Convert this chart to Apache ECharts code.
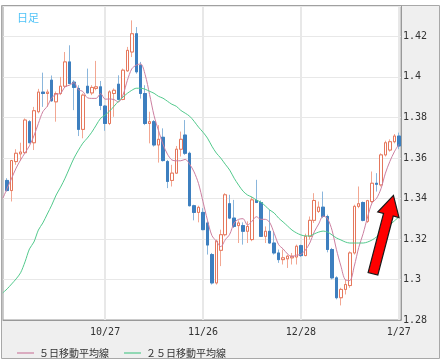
<!DOCTYPE html>
<html><head><meta charset="utf-8">
<script src="https://cdn.jsdelivr.net/npm/echarts@6/dist/echarts.min.js"></script>
<style>html,body{margin:0;padding:0;background:#fff}#c{width:443px;height:363px}</style>
</head><body><div id="c"></div>
<script>
// Trading days (index 0 = 9/24 is only used to carry the moving-average lines to the left edge)
const dates = ['9/24','9/27','9/28','9/29','9/30','10/1','10/4','10/5','10/6','10/7','10/8','10/11','10/12','10/13','10/14','10/15','10/18','10/19','10/20','10/21','10/22','10/25','10/26','10/27',
'10/28','10/29','11/1','11/2','11/3','11/4','11/5','11/8','11/9','11/10','11/11','11/12','11/15','11/16','11/17','11/18','11/19','11/22','11/23','11/24','11/25','11/26',
'11/29','11/30','12/1','12/2','12/3','12/6','12/7','12/8','12/9','12/10','12/13','12/14','12/15','12/16','12/17','12/20','12/21','12/22','12/23','12/24','12/27','12/28',
'12/29','12/30','12/31','1/3','1/4','1/5','1/6','1/7','1/10','1/11','1/12','1/13','1/14','1/17','1/18','1/19','1/20','1/21','1/24','1/25','1/26','1/27'];

const open  = [null,1.3489,1.3439,1.3582,1.3620,1.3626,1.3779,1.3675,1.3828,1.3925,1.3918,1.3984,1.3877,1.3918,1.3954,1.4074,1.3974,1.3943,1.3741,1.3954,1.3921,1.3943,1.3951,1.3856,
1.3770,1.3918,1.3964,1.3889,1.4030,1.4123,1.4213,1.4057,1.3918,1.3770,1.3779,1.3664,1.3702,1.3582,1.3489,1.3525,1.3643,1.3713,1.3623,1.3364,1.3331,1.3331,
1.3279,1.3123,1.2983,1.3144,1.3221,1.3374,1.3303,1.3266,1.3266,1.3238,1.3197,1.3390,1.3380,1.3213,1.3238,1.3180,1.3131,1.3098,1.3102,1.3107,1.3111,1.3167,
1.3118,1.3213,1.3292,1.3336,1.3357,1.3311,1.3148,1.3008,1.2910,1.2951,1.2970,1.3131,1.3361,1.3380,1.3287,1.3385,1.3475,1.3467,1.3615,1.3639,1.3680,1.3708];
const high  = [null,1.3500,1.3590,1.3643,1.3675,1.3795,1.3787,1.3852,1.3941,1.4021,1.3938,1.4007,1.3928,1.4000,1.4123,1.4156,1.3984,1.3959,1.3918,1.4041,1.3959,1.4079,1.3980,1.3861,
1.3934,1.3943,1.4008,1.4041,1.4148,1.4279,1.4246,1.4074,1.3959,1.3828,1.3787,1.3762,1.3746,1.3590,1.3566,1.3659,1.3730,1.3787,1.3631,1.3369,1.3364,1.3352,
1.3287,1.3131,1.3197,1.3246,1.3426,1.3418,1.3393,1.3292,1.3282,1.3287,1.3407,1.3492,1.3390,1.3262,1.3344,1.3238,1.3148,1.3148,1.3123,1.3131,1.3172,1.3172,
1.3226,1.3311,1.3426,1.3385,1.3434,1.3320,1.3156,1.3016,1.2959,1.3000,1.3139,1.3369,1.3459,1.3385,1.3393,1.3533,1.3525,1.3623,1.3685,1.3692,1.3718,1.3725];
const low   = [null,1.3434,1.3385,1.3566,1.3587,1.3620,1.3672,1.3639,1.3820,1.3852,1.3852,1.3877,1.3779,1.3910,1.3951,1.3964,1.3836,1.3708,1.3697,1.3918,1.3910,1.3934,1.3836,1.3734,
1.3762,1.3803,1.3885,1.3885,1.4025,1.4098,1.4016,1.3893,1.3762,1.3672,1.3656,1.3577,1.3582,1.3451,1.3459,1.3521,1.3607,1.3615,1.3361,1.3292,1.3282,1.3243,
1.3123,1.2975,1.2975,1.3066,1.3213,1.3298,1.3254,1.3180,1.3172,1.3180,1.3189,1.3377,1.3210,1.3180,1.3177,1.3123,1.3082,1.3074,1.3057,1.3074,1.3074,1.3111,
1.3115,1.3197,1.3279,1.3328,1.3303,1.3134,1.3000,1.2902,1.2872,1.2926,1.2959,1.3123,1.3352,1.3287,1.3279,1.3377,1.3434,1.3459,1.3607,1.3631,1.3672,1.3643];
const close = [null,1.3439,1.3587,1.3623,1.3629,1.3787,1.3675,1.3833,1.3925,1.3918,1.3925,1.3882,1.3918,1.3954,1.4074,1.3967,1.3948,1.3741,1.3910,1.3921,1.3948,1.3951,1.3859,1.3770,
1.3926,1.3934,1.3889,1.4033,1.4131,1.4213,1.4025,1.3918,1.3770,1.3779,1.3664,1.3692,1.3587,1.3484,1.3525,1.3643,1.3692,1.3623,1.3364,1.3331,1.3356,1.3246,
1.3170,1.2983,1.3189,1.3221,1.3418,1.3303,1.3262,1.3279,1.3238,1.3262,1.3393,1.3380,1.3213,1.3238,1.3180,1.3131,1.3098,1.3107,1.3115,1.3115,1.3164,1.3118,
1.3213,1.3292,1.3390,1.3357,1.3311,1.3148,1.3008,1.2910,1.2951,1.2975,1.3131,1.3361,1.3374,1.3292,1.3389,1.3475,1.3470,1.3615,1.3675,1.3680,1.3708,1.3659];

const ma5 = [1.3400,1.3450,1.3500,1.3550,1.3590,1.3625,1.3660,1.3709,1.3770,1.3828,1.3855,1.3897,1.3914,1.3919,1.3951,1.3959,1.3972,1.3937,1.3928,1.3897,1.3894,1.3894,1.3918,1.3890,
1.3891,1.3888,1.3876,1.3910,1.3983,1.4040,1.4058,1.4064,1.4011,1.3913,1.3809,1.3735,1.3668,1.3619,1.3590,1.3586,1.3586,1.3593,1.3569,1.3531,1.3473,1.3384,
1.3293,1.3217,1.3189,1.3162,1.3196,1.3223,1.3279,1.3297,1.3300,1.3269,1.3287,1.3310,1.3297,1.3297,1.3281,1.3228,1.3172,1.3151,1.3126,1.3113,1.3120,1.3124,
1.3145,1.3180,1.3235,1.3274,1.3313,1.3300,1.3243,1.3147,1.3066,1.2998,1.2995,1.3066,1.3158,1.3227,1.3309,1.3378,1.3400,1.3448,1.3525,1.3583,1.3630,1.3667];
const ma25 = [1.2934,1.2954,1.2978,1.3003,1.3033,1.3087,1.3151,1.3185,1.3244,1.3279,1.3323,1.3367,1.3417,1.3456,1.3500,1.3550,1.3599,1.3638,1.3673,1.3698,1.3727,1.3762,1.3796,1.3811,
1.3831,1.3855,1.3880,1.3900,1.3919,1.3934,1.3944,1.3944,1.3939,1.3929,1.3919,1.3904,1.3895,1.3880,1.3865,1.3855,1.3835,1.3821,1.3806,1.3781,1.3752,1.3727,
1.3698,1.3658,1.3624,1.3599,1.3569,1.3540,1.3500,1.3466,1.3436,1.3417,1.3407,1.3392,1.3382,1.3363,1.3343,1.3328,1.3303,1.3284,1.3264,1.3244,1.3230,1.3220,
1.3215,1.3215,1.3225,1.3234,1.3239,1.3234,1.3220,1.3205,1.3195,1.3185,1.3180,1.3180,1.3180,1.3180,1.3185,1.3195,1.3210,1.3230,1.3249,1.3269,1.3289,1.3308];

const labelDays = [23, 45, 67, 89];
const seriesNames = ['５日移動平均線', '２５日移動平均線'];
const chartTitle = '日足';
// arrow annotation (day index, price)
const arrowFrom = [83.2, 1.3028];
const arrowTo = [87.8, 1.3415];

const candleData = [], bodyData = [];
for (let i = 0; i < dates.length; i++) {
  if (open[i] == null) continue;
  candleData.push([i, open[i], close[i], low[i], high[i]]);
  bodyData.push([i, open[i], close[i], Math.min(open[i], close[i]), Math.max(open[i], close[i])]);
}

const chart = echarts.init(document.getElementById('c'));
const monoFont = 'DejaVu Sans Mono';
const jpFont = 'Noto Sans CJK JP';
chart.setOption({
  animation: false,
  backgroundColor: '#fff',
  title: {text: chartTitle, left: 12, top: 7, textStyle: {color: '#4fc3f7', fontSize: 11, fontWeight: 'normal', fontFamily: jpFont}},
  legend: {data: seriesNames, left: 12, top: 343, icon: 'rect', itemWidth: 17, itemHeight: 1.2, itemGap: 15,
    textStyle: {fontSize: 10, color: '#333', fontFamily: jpFont}},
  grid: {left: 3, right: 42, top: 6, bottom: 43, show: true, backgroundColor: '#fff', borderColor: '#999', borderWidth: 1},
  xAxis: {type: 'value', min: 0.05, max: 89.5,
    axisLine: {show: true, onZero: false, lineStyle: {color: '#999'}},
    axisTick: {show: false, customValues: labelDays},
    axisLabel: {customValues: labelDays, formatter: v => dates[Math.round(v)], color: '#333', fontSize: 10, fontFamily: monoFont, margin: 7},
    splitLine: {show: true, lineStyle: {color: '#e8e8e8', width: 2}}},
  yAxis: {type: 'value', position: 'right', min: 1.28, max: 1.435, interval: 0.02,
    axisLine: {show: true, lineStyle: {color: '#999'}}, axisTick: {show: false},
    axisLabel: {color: '#333', fontSize: 10, fontFamily: monoFont, margin: 2, showMaxLabel: false},
    splitLine: {lineStyle: {color: '#e8e8e8', width: 1}}},
  graphic: [{id: 'frame', type: 'rect', z: -10, shape: {x: 1.5, y: 5.5, width: 438, height: 353},
    style: {fill: '#efefef', stroke: '#a8a8a8', lineWidth: 1}}],
  series: [
    {type: 'candlestick', name: 'wick', data: candleData, barWidth: 3, z: 2,
      itemStyle: {color: '#fff', color0: '#3d7fbf', borderColor: '#f2a792', borderColor0: '#8ab6dc', borderWidth: 1}},
    {type: 'candlestick', name: 'body', data: bodyData, barWidth: 3, z: 3,
      itemStyle: {color: '#fff', color0: '#3d7fbf', borderColor: '#e5775c', borderColor0: '#3d7fbf', borderWidth: 1}},
    {type: 'line', name: seriesNames[0], data: ma5.map((v, i) => [i, v]), symbol: 'none', smooth: 0.3, z: 4,
      color: '#cc7fa0', lineStyle: {width: 1, color: '#cc7fa0'}},
    {type: 'line', name: seriesNames[1], data: ma25.map((v, i) => [i, v]), symbol: 'none', smooth: 0.3, z: 4,
      color: '#52c98c', lineStyle: {width: 1, color: '#52c98c'}}
  ]
});

const a = chart.convertToPixel({gridIndex: 0}, arrowFrom);
const b = chart.convertToPixel({gridIndex: 0}, arrowTo);
const dx = b[0] - a[0], dy = b[1] - a[1], len = Math.hypot(dx, dy);
const ux = dx / len, uy = dy / len, nx = -uy, ny = ux;
const shaftHalf = 5, headHalf = 11, headLen = 20;
const neck = [b[0] - ux * headLen, b[1] - uy * headLen];
const pts = [
  [a[0] + nx * shaftHalf, a[1] + ny * shaftHalf],
  [neck[0] + nx * shaftHalf, neck[1] + ny * shaftHalf],
  [neck[0] + nx * headHalf, neck[1] + ny * headHalf],
  b,
  [neck[0] - nx * headHalf, neck[1] - ny * headHalf],
  [neck[0] - nx * shaftHalf, neck[1] - ny * shaftHalf],
  [a[0] - nx * shaftHalf, a[1] - ny * shaftHalf]
];
chart.setOption({graphic: [{id: 'arrow', type: 'polygon', z: 100, shape: {points: pts},
  style: {fill: '#ff0000', stroke: '#1a1a1a', lineWidth: 1.2}}]});
</script></body></html>
